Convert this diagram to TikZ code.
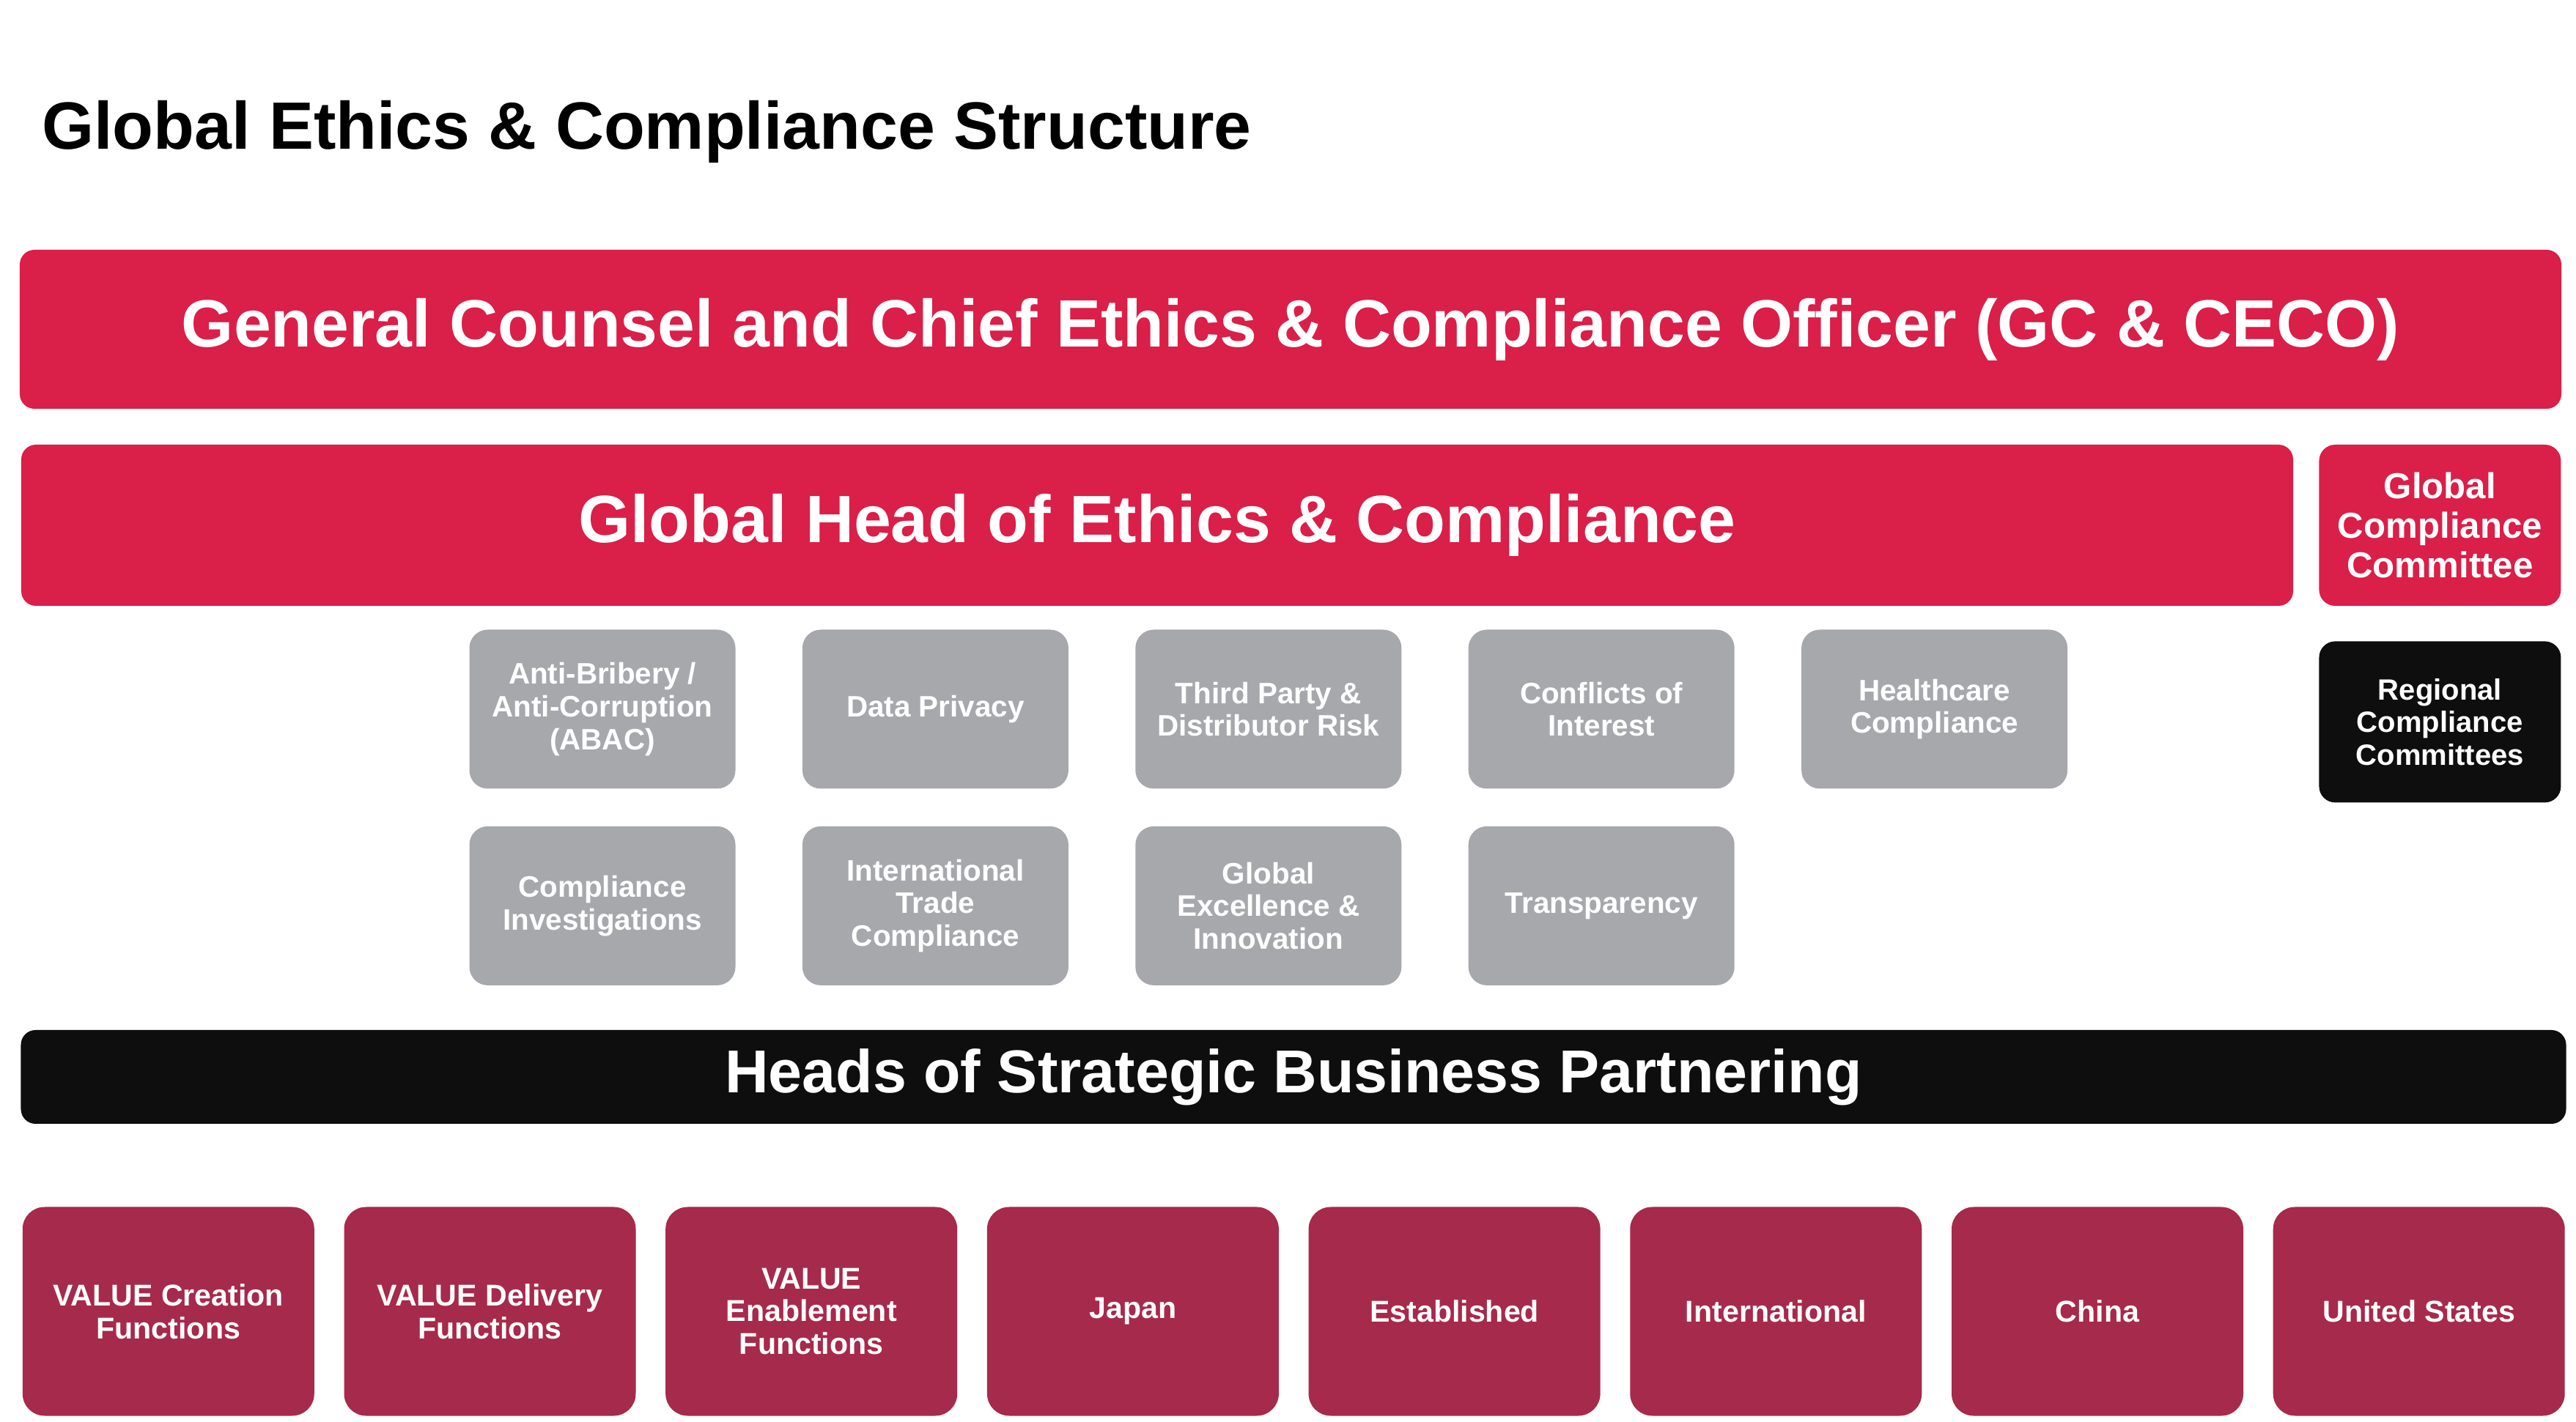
\documentclass[tikz,border=0pt]{standalone}
\usepackage{fontspec}
\setmainfont{Liberation Sans}
\usetikzlibrary{positioning}
\definecolor{ceco}{RGB}{218,31,72}
\definecolor{unitgray}{RGB}{167,168,172}
\definecolor{regionred}{RGB}{166,42,75}
\definecolor{partnerblack}{RGB}{14,14,14}
\tikzset{
  %Define style for the wide bars
  bar/.style={
    rectangle,
    rounded corners=2mm,
    fill=ceco,
    text=white,
    inner sep=0pt,
    font=\fontsize{26}{30}\selectfont\bfseries},
  %Define style for the committee boxes
  committee/.style={
    rectangle,
    rounded corners=2.2mm,
    fill=ceco,
    text=white,
    minimum width=3.3cm,
    minimum height=2.2cm,
    inner sep=0pt,
    align=center},
  %Define style for the function boxes
  unitbox/.style={
    rectangle,
    rounded corners=2.5mm,
    fill=unitgray,
    text=white,
    minimum width=3.63cm,
    minimum height=2.17cm,
    inner sep=0pt,
    align=center,
    font=\fontsize{11.5}{12.7}\selectfont\bfseries},
  % Define style for the partner boxes
  regionbox/.style={
    rectangle,
    rounded corners=3mm,
    fill=regionred,
    text=white,
    minimum width=3.98cm,
    minimum height=2.85cm,
    inner sep=0pt,
    align=center,
    font=\fontsize{11.7}{12.7}\selectfont\bfseries}
}
\begin{document}
\begin{tikzpicture}[node distance=0.9cm]
  \useasboundingbox (0,0) rectangle (35.15,-19.41);
  \node[anchor=base west, font=\fontsize{26}{30}\selectfont\bfseries] (title) at (0.45,-2.04) {Global Ethics \& Compliance Structure};
  \node[bar, minimum width=34.68cm, minimum height=2.17cm] (gc) at (17.61,-4.495) {General Counsel and Chief Ethics \& Compliance Officer (GC \& CECO)};
  \node[bar, minimum width=31cm, minimum height=2.2cm] (head) at (15.79,-7.17) {Global Head of Ethics \& Compliance};
  \node[committee, right=0.34cm of head, font=\fontsize{14}{15.4}\selectfont\bfseries] (gcc) {Global\\Compliance\\Committee};
  \node[committee, fill=partnerblack, below=0.47cm of gcc, font=\fontsize{11.4}{12.7}\selectfont\bfseries] (rcc) {Regional\\Compliance\\Committees};
  % functions
  \node[unitbox] (abac) at (8.22,-9.68) {Anti-Bribery /\\Anti-Corruption\\(ABAC)};
  \node[unitbox, right=of abac] (privacy) {Data Privacy};
  \node[unitbox, right=of privacy] (thirdparty) {Third Party \&\\Distributor Risk};
  \node[unitbox, right=of thirdparty] (conflicts) {Conflicts of\\Interest};
  \node[unitbox, right=of conflicts] (healthcare) {Healthcare\\Compliance};
  \node[unitbox, below=0.5cm of abac] (investigations) {Compliance\\Investigations};
  \node[unitbox, right=of investigations] (trade) {International\\Trade\\Compliance};
  \node[unitbox, right=of trade] (excellence) {Global\\Excellence \&\\Innovation};
  \node[unitbox, right=of excellence] (transparency) {Transparency};
  \node[bar, fill=partnerblack, minimum width=34.73cm, minimum height=1.28cm, font=\fontsize{23.5}{28}\selectfont\bfseries] (heads) at (17.65,-14.7) {Heads of Strategic Business Partnering};
  \foreach \name/\label [count=\i] in {vcreate/{VALUE Creation\\Functions}, vdeliver/{VALUE Delivery\\Functions}, venable/{VALUE\\Enablement\\Functions}, japan/Japan, established/Established, international/International, china/China, us/United States}
    \node[regionbox] (\name) at ({2.298+(\i-1)*4.387},-17.9) {\label};
\end{tikzpicture}
\end{document}
